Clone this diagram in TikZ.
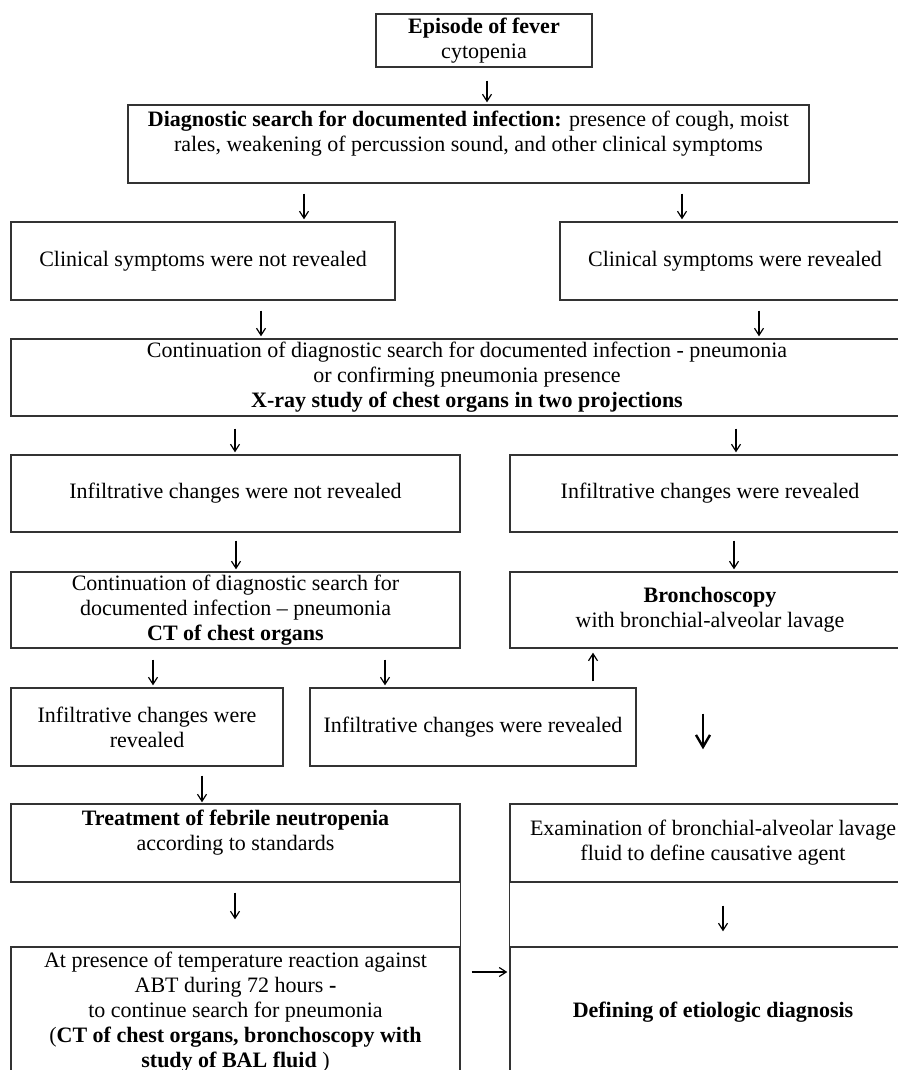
\documentclass[tikz,border=0pt]{standalone}
\usepackage{fontspec}
\setmainfont{Liberation Serif}
\usetikzlibrary{arrows.meta}

\begin{document}
\begin{tikzpicture}[x=1pt, y=-1pt,
  box/.style={draw=black!80, line width=0.7pt, align=center, inner sep=0pt,
    font=\fontsize{11}{12.5}\selectfont},
  arr/.style={-{Straight Barb[length=3.5pt,width=4.5pt]}, line width=0.6pt,
    shorten <=5pt, shorten >=1pt},
  bigarr/.style={-{Straight Barb[length=6pt,width=7pt]}, line width=1.2pt}]
  \useasboundingbox (0,0) rectangle (449,535);
  \clip (0,0) rectangle (449,535);

  % Top part
  \node[box, minimum width=108pt, minimum height=26.5pt] (fever) at (242,20.25)
    {\textbf{Episode of fever}\\ cytopenia};
  \node[box, minimum width=340.5pt, minimum height=39pt] (search) at (234.25,72)
    {\textbf{Diagnostic search for documented infection:} presence of cough, moist\\
     rales, weakening of percussion sound, and other clinical symptoms\\ ~};
  \node[box, minimum width=192pt, minimum height=39pt] (clinno) at (101.5,130.5)
    {Clinical symptoms were not revealed};
  \node[box, minimum width=175pt, minimum height=39pt] (clinyes) at (367.5,130.5)
    {Clinical symptoms were revealed};

  % X-ray
  \node[box, minimum width=456pt, minimum height=38.5pt] (xray) at (233.5,188.75)
    {Continuation of diagnostic search for documented infection - pneumonia\\
     or confirming pneumonia presence\\
     \textbf{X-ray study of chest organs in two projections}};
  \node[box, minimum width=224.5pt, minimum height=38.5pt] (infno) at (117.75,246.75)
    {Infiltrative changes were not revealed};
  \node[box, minimum width=200pt, minimum height=38.5pt] (infyes) at (355,246.75)
    {Infiltrative changes were revealed};

  % CT and bronchoscopy
  \node[box, minimum width=224.5pt, minimum height=38pt] (ct) at (117.75,305)
    {Continuation of diagnostic search for\\ documented infection -- pneumonia\\
     \textbf{CT of chest organs}};
  \node[box, minimum width=200pt, minimum height=38pt] (bronch) at (355,305)
    {\textbf{Bronchoscopy}\\ with bronchial-alveolar lavage};
  \node[box, minimum width=136pt, minimum height=39pt] (ctleft) at (73.5,363.5)
    {Infiltrative changes were\\ revealed};
  \node[box, minimum width=163pt, minimum height=39pt] (ctmid) at (236.5,363.5)
    {Infiltrative changes were revealed};

  % Lower columns
  \node[box, minimum width=224.5pt, minimum height=39pt] (treat) at (117.75,421.5)
    {\textbf{Treatment of febrile neutropenia}\\ according to standards\\ ~};
  \node[box, minimum width=224.5pt, minimum height=65pt] (abt) at (117.75,506)
    {At presence of temperature reaction against\\
     ABT during 72 hours \textbf{-}\\
     to continue search for pneumonia\\
     (\textbf{CT of chest organs, bronchoscopy with}\\
     \textbf{study of BAL fluid} )};
  \node[box, minimum width=203pt, minimum height=39pt] (bal) at (356.5,421.5)
    {Examination of bronchial-alveolar lavage\\ fluid to define causative agent};
  \node[box, minimum width=203pt, minimum height=65pt] (etio) at (356.5,506)
    {\textbf{Defining of etiologic diagnosis}};
  \draw[black!80, line width=0.7pt] (treat.south east) -- (abt.north east);
  \draw[black!80, line width=0.7pt] (bal.south west) -- (etio.north west);

  % Arrows
  \draw[arr, shorten <=6.5pt] (fever.south -| 243.5,0) -- (search.north -| 243.5,0);
  \draw[arr] (search.south -| 152,0) -- (clinno.north -| 152,0);
  \draw[arr] (search.south -| 341,0) -- (clinyes.north -| 341,0);
  \draw[arr] (clinno.south -| 130.5,0) -- (xray.north -| 130.5,0);
  \draw[arr] (clinyes.south -| 379.5,0) -- (xray.north -| 379.5,0);
  \draw[arr, shorten <=6pt] (xray.south -| 117.5,0) -- (infno.north -| 117.5,0);
  \draw[arr, shorten <=6pt] (xray.south -| 368,0) -- (infyes.north -| 368,0);
  \draw[arr, shorten <=4pt] (infno.south -| 118,0) -- (ct.north -| 118,0);
  \draw[arr, shorten <=4pt] (infyes.south -| 367,0) -- (bronch.north -| 367,0);
  \draw[arr, shorten <=5.5pt] (ct.south -| 76.5,0) -- (ctleft.north -| 76.5,0);
  \draw[arr, shorten <=5.5pt] (ct.south -| 192.5,0) -- (ctmid.north -| 192.5,0);
  \draw[arr, shorten <=3pt, shorten >=2pt] (ctmid.north -| 296.5,0) -- (bronch.south -| 296.5,0);
  \draw[bigarr, shorten <=32.5pt, shorten >=27pt] (bronch.south -| 351.5,0) -- (bal.north -| 351.5,0);
  \draw[arr, shorten <=4.5pt, shorten >=0.5pt] (ctleft.south -| 101,0) -- (treat.north -| 101,0);
  \draw[arr, shorten <=5pt, shorten >=13.5pt] (treat.south -| 117.5,0) -- (abt.north -| 117.5,0);
  \draw[arr, shorten <=11.5pt, shorten >=7.5pt] (bal.south -| 361.5,0) -- (etio.north -| 361.5,0);
  \draw[arr, shorten <=5.5pt] (abt.east |- 0,486) -- (etio.west |- 0,486);
\end{tikzpicture}
\end{document}
